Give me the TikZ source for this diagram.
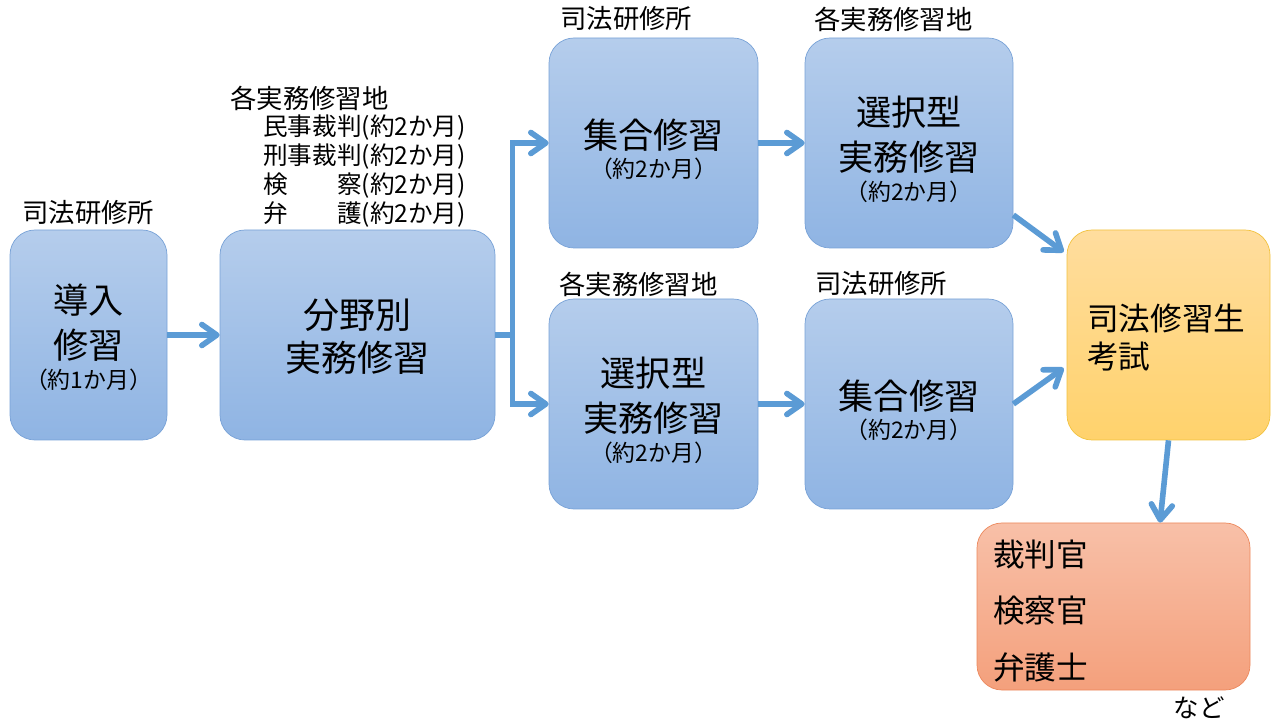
\documentclass[tikz,border=0pt]{standalone}
\usepackage{fontspec}
\newfontfamily\jpfont{Noto Sans CJK JP}
\usepackage{xcolor}
\definecolor{kflow}{RGB}{91,155,213}
\definecolor{kboxtop}{RGB}{181,205,236}
\definecolor{kboxbot}{RGB}{143,180,227}
\definecolor{kboxline}{RGB}{120,162,215}
\definecolor{kexamtop}{RGB}{255,221,158}
\definecolor{kexambot}{RGB}{255,210,108}
\definecolor{kexamline}{RGB}{242,194,62}
\definecolor{kjobtop}{RGB}{248,192,168}
\definecolor{kjobbot}{RGB}{244,160,124}
\definecolor{kjobline}{RGB}{236,136,92}
\usetikzlibrary{arrows.meta,positioning}
\tikzset{
  stage/.style={draw=kboxline,rounded corners=0.5cm,top color=kboxtop,bottom color=kboxbot,minimum height=4.2cm},
  exam/.style={draw=kexamline,rounded corners=0.5cm,top color=kexamtop,bottom color=kexambot,minimum width=4.06cm,minimum height=4.2cm},
  job/.style={draw=kjobline,rounded corners=0.5cm,top color=kjobtop,bottom color=kjobbot,minimum width=5.46cm,minimum height=3.34cm},
  flow/.style={kflow,line width=3.2pt,-{Straight Barb[round,length=0.3cm,width=0.42cm]}},
  mainlbl/.style={inner sep=0pt,align=center,font=\jpfont\fontsize{20}{25.6}\selectfont},
  sublbl/.style={inner sep=0pt,font=\jpfont\fontsize{13}{15}\selectfont},
  placelbl/.style={inner sep=0pt,anchor=west,font=\jpfont\fontsize{15}{18}\selectfont},
}
\begin{document}
\begin{tikzpicture}
  \useasboundingbox (0,0) rectangle (25.6,14.4);
  % boxes
  \node[stage,minimum width=3.14cm] (dounyu) at (1.77,7.7) {};
  \node[stage,minimum width=5.5cm] (bunya) at (7.15,7.7) {};
  \node[stage,minimum width=4.18cm] (shugoA) at (13.07,11.54) {};
  \node[stage,minimum width=4.16cm] (sentakuA) at (18.18,11.54) {};
  \node[stage,minimum width=4.18cm] (sentakuB) at (13.07,6.32) {};
  \node[stage,minimum width=4.16cm] (shugoB) at (18.18,6.32) {};
  \node[exam] (shiken) at (23.37,7.7) {};
  \node[job] (shokugyo) at (22.27,2.27) {};
  % texts in boxes
  \node[mainlbl] (dounyuT) at (1.77,7.95) {導入\\修習};
  \node[sublbl] (dounyuM) at (1.77,6.8) {（約1か月）};
  \node[mainlbl,font=\jpfont\fontsize{20.5}{24.5}\selectfont] (bunyaT) at (7.15,7.67) {分野別\\実務修習};
  \node[mainlbl] (shugoAT) at (13.07,11.69) {集合修習};
  \node[sublbl] (shugoAM) at (13.07,11.02) {（約2か月）};
  \node[mainlbl] (sentakuAT) at (18.18,11.7) {選択型\\実務修習};
  \node[sublbl] (sentakuAM) at (18.18,10.56) {（約2か月）};
  \node[mainlbl] (sentakuBT) at (13.07,6.48) {選択型\\実務修習};
  \node[sublbl] (sentakuBM) at (13.07,5.34) {（約2か月）};
  \node[mainlbl] (shugoBT) at (18.18,6.47) {集合修習};
  \node[sublbl] (shugoBM) at (18.18,5.8) {（約2か月）};
  \node[mainlbl,anchor=west,align=left,font=\jpfont\fontsize{18}{22}\selectfont] (shikenT) at (21.74,7.65) {司法修習生\\考試};
  \node[mainlbl,anchor=west,align=left,font=\jpfont\fontsize{18}{31.9}\selectfont] (shokugyoT) at (19.86,2.18) {裁判官\\検察官\\弁護士};
  \node[placelbl,anchor=center,font=\jpfont\fontsize{14.5}{17}\selectfont] (nado) at (23.98,0.24) {など};
  % places
  \node[placelbl] (dounyuP) at (0.44,10.14) {司法研修所};
  \node[placelbl] (bunyaP) at (4.6,12.44) {各実務修習地};
  \foreach \txt [count=\i] in {民事裁判(約2か月),刑事裁判(約2か月),検　　察(約2か月),弁　　護(約2か月)}
    \node[placelbl,font=\jpfont\fontsize{14}{17}\selectfont] (bunya\i) at (5.26,12.42-0.58*\i) {\txt};
  \node[placelbl] (shugoAP) at (11.2,14.02) {司法研修所};
  \node[placelbl] (sentakuAP) at (16.28,14.02) {各実務修習地};
  \node[placelbl] (sentakuBP) at (11.18,8.72) {各実務修習地};
  \node[placelbl] (shugoBP) at (16.3,8.72) {司法研修所};
  % arrows
  \draw[flow] (dounyu) -- (bunya);
  \draw[flow] (bunya.east) -- ++(0.34,0) |- (shugoA.west);
  \draw[flow] (bunya.east) -- ++(0.34,0) |- (sentakuB.west);
  \draw[flow] (shugoA) -- (sentakuA);
  \draw[flow] (sentakuB) -- (shugoB);
  \draw[flow] ([yshift=-1.44cm]sentakuA.east) -- ([xshift=-0.06cm,yshift=1.66cm]shiken.west);
  \draw[flow] (shugoB.east) -- ([xshift=-0.06cm,yshift=-0.66cm]shiken.west);
  \draw[flow] (shiken.south) -- ([xshift=0.93cm]shokugyo.north);
\end{tikzpicture}
\end{document}
